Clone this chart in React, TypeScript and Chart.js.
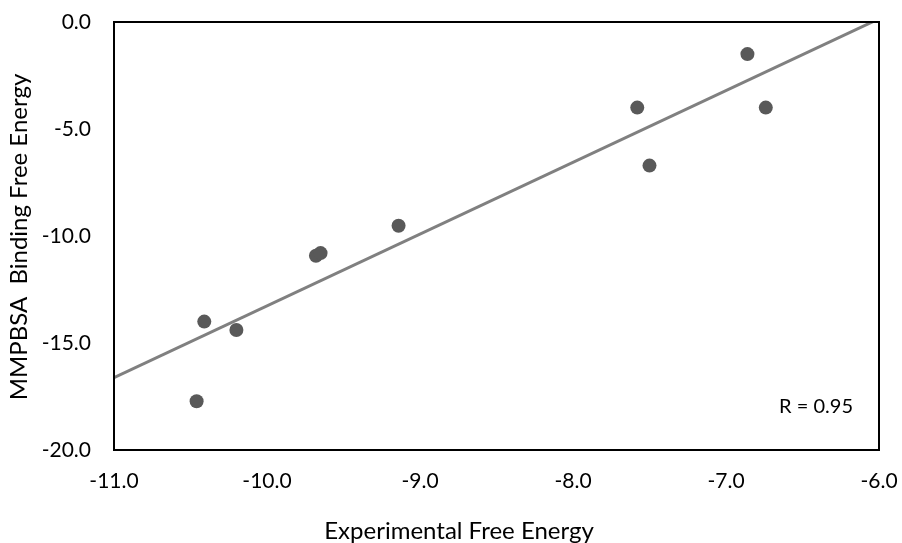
import React, { useEffect, useRef } from "react";
import { Chart, registerables } from "chart.js";

Chart.register(...registerables);

// Experimental free energy (x) vs MMPBSA binding free energy (y)
const experimentalEnergy = [-10.46, -10.41, -10.2, -9.68, -9.65, -9.14, -7.58, -7.5, -6.86, -6.74];
const mmpbsaEnergy = [-17.72, -14.0, -14.39, -10.92, -10.8, -9.52, -4.0, -6.71, -1.5, -4.0];

// Trend line end points
const trendX = [-11.0, -6.0];
const trendY = [-16.62, 0.15];

const xTicks = [-11, -10, -9, -8, -7, -6];
const yTicks = [-20, -15, -10, -5, 0];

const xTitle = "Experimental Free Energy";
const yTitle = "MMPBSA  Binding Free Energy";
const rLabel = "R = 0.95";
const rLabelPos = { x: -6.17, y: -18.25 };

const FONT = "Lato, 'Open Sans', sans-serif";

export default function App() {
  const ref = useRef<HTMLCanvasElement | null>(null);

  useEffect(() => {
    const canvas = ref.current;
    if (!canvas) return;

    const overlay = {
      id: "overlay",
      afterDraw(chart: any) {
        const { ctx, chartArea } = chart;
        ctx.save();
        // plot border
        ctx.strokeStyle = "#000000";
        ctx.lineWidth = 2;
        ctx.strokeRect(chartArea.left, chartArea.top, chartArea.right - chartArea.left, chartArea.bottom - chartArea.top);

        ctx.fillStyle = "#000000";
        // R label
        ctx.font = `20px ${FONT}`;
        ctx.textAlign = "right";
        ctx.textBaseline = "alphabetic";
        const rx = chart.scales.x.getPixelForValue(rLabelPos.x);
        const ry = chart.scales.y.getPixelForValue(rLabelPos.y);
        ctx.fillText(rLabel, rx, ry);

        // x title
        ctx.font = `24px ${FONT}`;
        ctx.textAlign = "center";
        ctx.textBaseline = "middle";
        ctx.fillText(xTitle, 459, 531);

        // y title
        ctx.translate(19, (chartArea.top + chartArea.bottom) / 2 + 1);
        ctx.rotate(-Math.PI / 2);
        ctx.fillText(yTitle, 0, 0);
        ctx.restore();
      },
    };

    const chart = new Chart(canvas, {
      type: "scatter",
      data: {
        datasets: [
          {
            label: "Data",
            data: experimentalEnergy.map((x, i) => ({ x, y: mmpbsaEnergy[i] })),
            backgroundColor: "#595959",
            borderWidth: 0,
            pointRadius: 7,
            pointHoverRadius: 7,
          },
          {
            label: "Trend",
            data: trendX.map((x, i) => ({ x, y: trendY[i] })),
            showLine: true,
            borderColor: "#808080",
            borderWidth: 3,
            pointRadius: 0,
            pointHoverRadius: 0,
            fill: false,
          },
        ],
      },
      options: {
        responsive: false,
        animation: false,
        events: [],
        layout: { padding: { left: 0, top: 22, right: 23, bottom: 0 } },
        plugins: {
          legend: { display: false },
          tooltip: { enabled: false },
          title: { display: false },
        },
        scales: {
          x: {
            type: "linear",
            min: -11,
            max: -6,
            afterBuildTicks(scale: any) {
              scale.ticks = xTicks.map((v) => ({ value: v }));
            },
            afterFit(scale: any) {
              scale.height = 93;
              scale.paddingLeft = 0;
              scale.paddingRight = 0;
            },
            grid: { display: false, drawTicks: false, tickLength: 0 },
            border: { display: false },
            ticks: {
              padding: 19,
              color: "#000000",
              font: { family: FONT, size: 21 },
              callback: (v: any) => Number(v).toFixed(1),
              maxRotation: 0,
              autoSkip: false,
            },
            title: { display: false },
          },
          y: {
            type: "linear",
            min: -20,
            max: 0,
            afterBuildTicks(scale: any) {
              scale.ticks = yTicks.map((v) => ({ value: v }));
            },
            afterFit(scale: any) {
              scale.width = 114;
              scale.paddingTop = 0;
              scale.paddingBottom = 0;
            },
            grid: { display: false, drawTicks: false, tickLength: 0 },
            border: { display: false },
            ticks: {
              padding: 23,
              color: "#000000",
              font: { family: FONT, size: 21 },
              callback: (v: any) => Number(v).toFixed(1),
              autoSkip: false,
            },
            title: { display: false },
          },
        },
      },
      plugins: [overlay],
    });

    return () => chart.destroy();
  }, []);

  return (
    <div style={{ position: "absolute", left: 0, top: 0, width: 902, height: 543, background: "#ffffff" }}>
      <canvas ref={ref} width={902} height={543} style={{ display: "block", width: 902, height: 543 }} />
    </div>
  );
}
